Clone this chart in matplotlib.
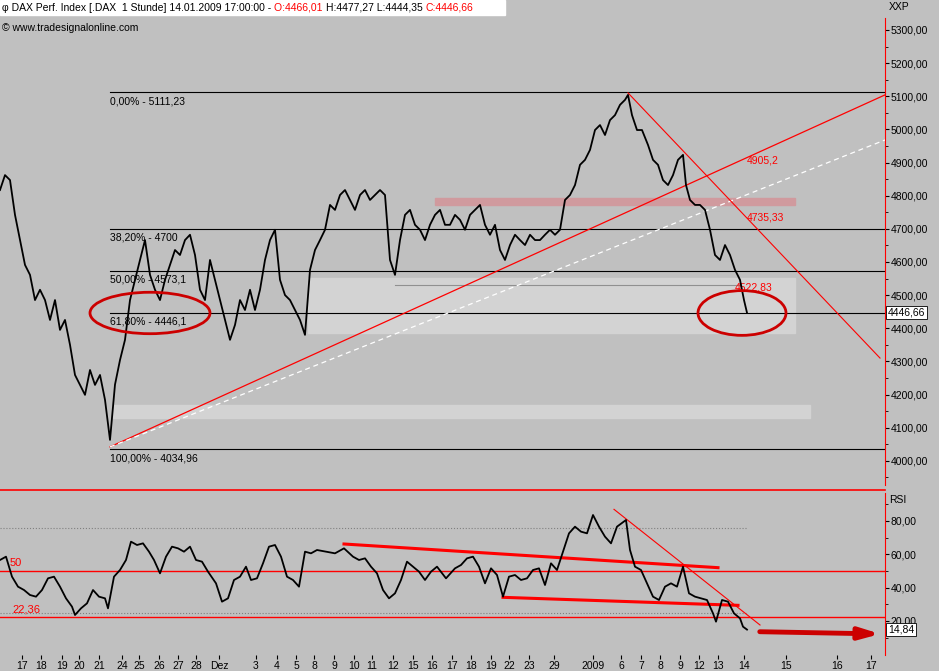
import numpy as np
import matplotlib.pyplot as plt
from matplotlib.patches import Rectangle, Ellipse

plt.rcParams['font.family'] = ['Liberation Sans', 'DejaVu Sans']

# price series (x = chart position, close values)
px = list(range(0, 630, 5)) + [628, 632, 637, 642, 648, 653, 658, 663, 668, 673, 678, 683, 686,
                               690, 695, 700, 705, 710, 715, 720, 725, 730, 735, 740, 744, 747]
px = px[:126] + px[126:]
close = [4817, 4862, 4847, 4742, 4666, 4591, 4561, 4485, 4516, 4485, 4425, 4485, 4395, 4425, 4350,
         4259, 4229, 4199, 4274, 4229, 4259, 4184, 4063, 4230, 4304, 4365, 4485, 4546, 4606, 4666,
         4561, 4516, 4485, 4546, 4591, 4636, 4621, 4666, 4682, 4621, 4516, 4485, 4606, 4546, 4485,
         4425, 4365, 4410, 4485, 4455, 4516, 4455, 4516, 4606, 4666, 4697, 4546, 4500, 4485, 4455,
         4425, 4380, 4576, 4636, 4666, 4697, 4772, 4757, 4802, 4817, 4787, 4757, 4802, 4817, 4787,
         4802, 4817, 4802, 4606, 4561, 4666, 4742, 4757, 4712, 4697, 4666, 4712, 4742, 4757, 4712,
         4712, 4742, 4727, 4697, 4742, 4757, 4772, 4712, 4682, 4712, 4636, 4606, 4651, 4682, 4666,
         4651, 4682, 4666, 4666, 4682, 4697, 4682, 4697, 4787, 4802, 4832, 4893, 4908, 4938, 4998,
         5013, 4983, 5028, 5043, 5074, 5089,
         5104, 5043, 4998, 4998, 4953, 4908, 4893, 4847, 4832, 4862, 4908, 4923, 4832, 4787, 4772,
         4772, 4757, 4697, 4621, 4606, 4651, 4621, 4576, 4546, 4485, 4446.66]

# RSI series
rx = [0, 6, 12, 18, 24, 30, 36, 42, 48, 54, 60, 66, 72, 75, 81, 87, 93, 99, 105, 108, 114, 120, 126,
      131, 137, 143, 149, 154, 160, 166, 172, 178, 184, 190, 196, 202, 208, 216, 222, 228, 234, 240,
      246, 251, 257, 263, 269, 275, 281, 287, 293, 299, 305, 311, 317, 326, 335, 344, 353, 359, 365,
      371, 377, 383, 389, 395, 401, 407, 413, 419, 425, 431, 437, 446, 455, 461, 467, 473, 479, 485,
      491, 497, 503, 509, 515, 521, 527, 533, 539, 545, 551, 557, 563, 569, 575, 581, 587, 593, 599,
      605, 611, 617, 626, 630, 635, 641, 647, 653, 659, 665, 671, 677, 683, 689, 695, 701, 707, 713,
      716, 722, 728, 734, 740, 743, 747]
rsi = [56.6, 58.6, 46.6, 40.6, 38.6, 35.6, 34.6, 38.6, 45.6, 46.6, 40.6, 33.6, 28.6, 23.6, 27.6, 30.6,
       38.6, 34.6, 33.6, 27.6, 46.6, 50.6, 56.6, 67.6, 65.6, 66.6, 61.6, 56.6, 48.6, 58.6, 64.6, 63.6,
       61.6, 64.6, 56.6, 55.6, 49.6, 42.6, 31.6, 33.6, 44.6, 46.6, 52.6, 44.6, 45.6, 54.6, 64.6, 65.6,
       58.6, 46.6, 44.6, 40.6, 61.6, 60.6, 62.6, 61.6, 60.6, 63.6, 58.6, 56.6, 57.6, 52.6, 48.6, 38.6,
       33.6, 36.6, 44.6, 55.6, 52.6, 49.6, 44.6, 49.6, 52.6, 45.6, 51.6, 53.6, 57.6, 58.6, 52.6, 42.6,
       51.6, 47.6, 34.6, 46.6, 47.6, 44.6, 45.6, 50.6, 51.6, 41.6, 54.6, 50.6, 61.6, 72.6, 76.6, 73.6,
       72.6, 83.6, 76.6, 70.6, 66.6, 76.6, 80.6, 62.6, 52.6, 50.6, 42.6, 34.6, 32.6, 40.6, 42.6, 40.6,
       52.6, 36.6, 34.6, 33.6, 32.6, 24.6, 19.6, 32.6, 31.6, 24.6, 21.6, 16.6, 14.84]

fib_levels = [5111.23, 4700, 4573.1, 4446.1, 4034.96]
fib_labels = ['0,00% - 5111,23', '38,20% - 4700', '50,00% - 4573,1', '61,80% - 4446,1', '100,00% - 4034,96']

day_pos = [22, 41, 62, 79, 99, 122, 139, 159, 178, 196, 219, 256, 277, 296, 314, 334, 354, 372, 393,
           413, 432, 452, 471, 491, 509, 529, 554, 593, 621, 641, 660, 680, 699, 718, 744, 786, 837, 871]
day_lbl = ['17', '18', '19', '20', '21', '24', '25', '26', '27', '28', 'Dez', '3', '4', '5', '8', '9',
           '10', '11', '12', '15', '16', '17', '18', '19', '22', '23', '29', '2009', '6', '7', '8', '9',
           '12', '13', '14', '15', '16', '17']

W, H = 939, 671
bg = '#c0c0c0'
fig = plt.figure(figsize=(W / 100, H / 100), dpi=100, facecolor=bg)
ax = fig.add_axes([0, 1 - 485 / H, 885 / W, 467 / H], facecolor=bg)
ax2 = fig.add_axes([0, 1 - 655 / H, 885 / W, 162 / H], facecolor=bg)

for a in (ax, ax2):
    a.set_xlim(0, 885)
    a.yaxis.tick_right()
    a.tick_params(axis='y', labelsize=7.5, length=3, pad=1, colors='black')
    for s in ['top', 'left', 'bottom']:
        a.spines[s].set_visible(False)
    a.spines['right'].set_color('red')

# --- price panel
ax.set_ylim(3927, 5336)
ax.set_yticks(np.arange(4000, 5301, 100))
ax.set_yticks(np.arange(3950, 5336, 50), minor=True)
ax.set_yticklabels([f'{v},00' for v in range(4000, 5301, 100)])
ax.tick_params(axis='y', which='minor', length=2)
ax.set_xticks([])

ax.add_patch(Rectangle((308, 4386), 487, 166, color='#d3d3d3', zorder=1))
ax.add_patch(Rectangle((113, 4129), 697, 40, color='#d3d3d3', zorder=1))
ax.add_patch(Rectangle((435, 4772), 360, 21, color='#d09a9e', zorder=1))
ax.plot([395, 740], [4530, 4530], color='#909090', lw=0.8, zorder=2)

for lv, lb in zip(fib_levels, fib_labels):
    ax.axhline(lv, xmin=110 / 885, xmax=1, color='black', lw=0.8, zorder=2)
    ax.text(110, lv - 12, lb, fontsize=7.5, va='top', zorder=4)

ax.plot([110, 885], [4042, 5104], color='red', lw=0.9, zorder=3)
ax.plot([110, 885], [4042, 4968], color='white', lw=0.9, ls='--', dashes=(4, 3), zorder=3)
ax.plot([628, 880], [5110, 4310], color='red', lw=0.8, zorder=3)

ax.plot(px, close, color='black', lw=1.3, zorder=5)

ax.text(747, 4905, '4905,2', color='red', fontsize=7.5, va='center', zorder=6)
ax.text(747, 4765 - 30, '4735,33', color='red', fontsize=7.5, va='center', zorder=6)
ax.text(735, 4522, '4522,83', color='red', fontsize=7.5, va='center', zorder=4)
ax.add_patch(Ellipse((150, 4446), 120, 125, fill=False, ec='#cc0000', lw=2, zorder=6))
ax.add_patch(Ellipse((742, 4446), 88, 135, fill=False, ec='#cc0000', lw=2, zorder=6))
ax.text(888, 4446.66, '4446,66', fontsize=7.5, va='center', transform=ax.get_yaxis_transform() if False else ax.transData,
        bbox=dict(boxstyle='square,pad=0.15', fc='white', ec='black', lw=0.6), clip_on=False, zorder=7)

# --- RSI panel
ax2.set_ylim(-0.4, 96.8)
ax2.set_yticks([20, 40, 60, 80])
ax2.set_yticks(np.arange(10, 95, 10), minor=True)
ax2.set_yticklabels(['20,00', '40,00', '60,00', '80,00'])
ax2.tick_params(axis='y', which='minor', length=2)
ax2.axhline(50, color='red', lw=1)
ax2.axhline(22.36, color='red', lw=1)
ax2.plot([0, 747], [76, 76], color='#808080', lw=0.8, ls=':')
ax2.plot([0, 747], [25, 25], color='#808080', lw=0.8, ls=':')
ax2.plot([344, 718], [66.2, 52], color='red', lw=2.2)
ax2.plot([503, 738], [34.2, 29.4], color='red', lw=2.2)
ax2.plot([614, 760], [87, 17.6], color='red', lw=0.8)
ax2.plot(rx, rsi, color='black', lw=1.3, zorder=5)
ax2.annotate('', xy=(883, 12.2), xytext=(757, 13.6),
             arrowprops=dict(arrowstyle='-|>,head_width=0.35,head_length=1.2', color='#cc0000', lw=3.5),
             annotation_clip=False)
ax2.text(10, 52, '50', color='red', fontsize=8, va='bottom')
ax2.text(12, 24, '22,36', color='red', fontsize=8, va='bottom')
ax2.text(888, 14.84, '14,84', fontsize=7.5, va='center', clip_on=False,
         bbox=dict(boxstyle='square,pad=0.15', fc='white', ec='black', lw=0.6), zorder=7)
ax2.set_xticks(day_pos)
ax2.set_xticklabels(day_lbl, fontsize=7.5)
ax2.tick_params(axis='x', length=3, pad=1)

# separator and header
fig.add_artist(plt.Line2D([0, 885 / W], [1 - 490 / H, 1 - 490 / H], color='red', lw=1.2))
fig.add_artist(Rectangle((0, 1 - 15 / H), 505 / W, 15 / H, color='white', transform=fig.transFigure))
y0 = 1 - 8 / H
parts = [('\u03c6 DAX Perf. Index [.DAX  1 Stunde] 14.01.2009 17:00:00 - ', 'black'), ('O:4466,01 ', 'red'),
         ('H:4477,27 L:4444,35 ', 'black'), ('C:4446,66', 'red')]
t = fig.text(2 / W, y0, parts[0][0], fontsize=7.5, va='center', color=parts[0][1])
fig.canvas.draw()
for txt, col in parts[1:]:
    t = fig.text(0, 0, txt, fontsize=7.5, va='center', color=col)
    prev = fig.texts[-2].get_window_extent()
    t.set_position((prev.x1 / W, y0))
    fig.canvas.draw()
fig.text(2 / W, 1 - 28 / H, '\u00a9 www.tradesignalonline.com', fontsize=7.5, va='center')
fig.text(889 / W, 1 - 7 / H, 'XXP', fontsize=7.5, va='center')
fig.text(889 / W, 1 - 500 / H, 'RSI', fontsize=7.5, va='center')

fig.savefig('out.png', dpi=100, facecolor=bg)
